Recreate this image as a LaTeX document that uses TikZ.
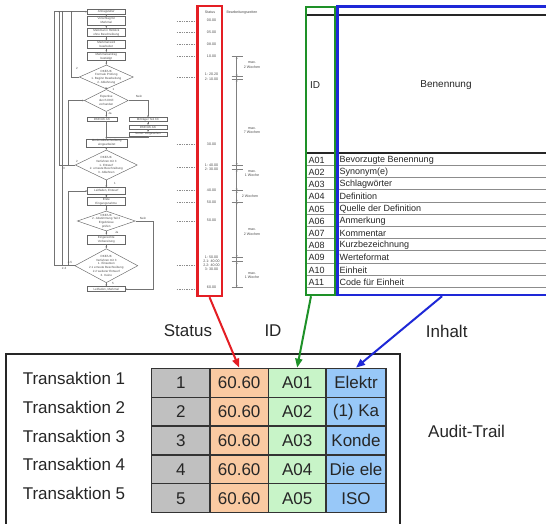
\documentclass[tikz,border=0pt]{standalone}
\usepackage{fontspec}
\setmainfont{Liberation Sans}
\usetikzlibrary{arrows.meta,shapes.geometric}
\newcommand\fcfont{\fontsize{3}{3.8}\selectfont}
\newcommand\smfont{\fontsize{3.6}{4.2}\selectfont}
\definecolor{cgray}{RGB}{192,192,192}
\definecolor{corange}{RGB}{250,202,162}
\definecolor{cgreen}{RGB}{200,244,200}
\definecolor{cblue}{RGB}{152,200,248}
\definecolor{myred}{RGB}{228,30,36}
\definecolor{mygreen}{RGB}{30,145,40}
\definecolor{myblue}{RGB}{30,40,215}
\begin{document}
\begin{tikzpicture}[x=1pt,y=-1pt,
 fbox/.style={draw=black!60,line width=0.45pt,fill=white,font=\fcfont,text=black!70,align=center,inner sep=0pt,minimum width=37.3pt},
 fdia/.style={diamond,draw=black!60,line width=0.45pt,fill=white,inner sep=0pt},
 ftext/.style={font=\fcfont,text=black!70,align=center,inner sep=0pt},
 flab/.style={font=\fcfont,text=black!70,inner sep=0pt},
 fline/.style={draw=black!55,line width=0.45pt},
 farrow/.style={fline,-{Stealth[length=2pt,width=1.6pt]}},
 dotline/.style={draw=black!45,line width=0.5pt,dash pattern=on 1.4pt off 1pt},
 stxt/.style={font=\smfont,text=black!70,inner sep=0pt},
 tline/.style={draw=black!50,line width=0.5pt},
 tarrow/.style={tline,{Stealth[length=2.2pt,width=1.8pt]}-{Stealth[length=2.2pt,width=1.8pt]}},
 frame/.style={line width=2.4pt,inner sep=0pt},
 hdr/.style={font=\fontsize{10}{12}\selectfont,text=black!85,inner sep=0pt},
 rowtxt/.style={font=\fontsize{9}{10}\selectfont,text=black!85,inner sep=0pt,anchor=west},
 cell/.style={draw=black!80,line width=1.3pt,minimum height=28.9pt,inner sep=0pt,font=\fontsize{17}{17}\selectfont,text=black!85},
 big/.style={font=\fontsize{17}{17}\selectfont,text=black!85,inner sep=0pt},
 bigarrow/.style={line width=2pt,-{Triangle[length=9pt,width=7pt]}},
]
\useasboundingbox (0,0) rectangle (546,523);
\clip (0,0) rectangle (546,523);
\fill[white] (0,0) rectangle (546,523);

% ---------------- flowchart ----------------
\node[fbox,minimum height=4.7pt] (f1) at (106.3,11.7) {Antragsteller};
\node[fbox,minimum height=8.3pt] (f2) at (106.3,20.8) {Vorschlag f\"ur\\Merkmal};
\node[fbox,minimum height=8.4pt] (f3) at (106.3,32.5) {Merkmal in Hinblick\\ohne Beschreibung};
\node[fbox,minimum height=7.6pt] (f4) at (106.3,44.5) {Merkmal wird\\bearbeitet};
\node[fbox,minimum height=8.4pt] (f5) at (106.3,56.5) {Merkmalsantrag\\best\"atigt};
\node[fdia,minimum width=54pt,minimum height=24pt] (d1) at (106.3,77) {};
\node[ftext] (t1) at (d1) {DKE/UK\\Formale Pr\"ufung\\1. Beginn Bearbeitung\\2. Ablehnung};
\node[fdia,minimum width=44pt,minimum height=22pt] (d2) at (106.3,100.5) {};
\node[ftext] (t2) at (d2) {Expertise\\durch DKE\\vorhanden};
\node[fbox,minimum width=30pt,minimum height=3.8pt] (f6) at (102,119.2) {DKE/UK AK};
\node[fbox,minimum width=38pt,minimum height=3.8pt] (r1) at (148,119.5) {Mittr\"ager Teil XX};
\node[fbox,minimum width=38pt,minimum height=3.8pt] (r2) at (148,127) {DKE/UK AK};
\node[fbox,minimum width=38pt,minimum height=3.8pt] (r3) at (148,134) {Sonst. Vorgesehen};
\node[fbox,minimum width=41.3pt,minimum height=7.5pt] (f7) at (106.7,143) {Merkmalbeschreibung\\eingearbeitet};
\node[fdia,minimum width=62pt,minimum height=30pt] (d3) at (106.3,165) {};
\node[ftext] (t3) at (d3) {DKE/UK\\Verfahren mit 3\\1. Entwurf\\2. erneute Beschreibung\\3. Ablehnen};
\node[fbox,minimum height=6.6pt] (f8) at (106.3,191) {Leitfaden, Entwurf};
\node[fbox,minimum height=8pt] (f9) at (106.3,201.7) {Erste\\Eingangsnahme};
\node[fdia,minimum width=58pt,minimum height=20pt] (d4) at (106.3,221) {};
\node[ftext] (t4) at (d4) {DKE/UK\\2. Abstimmung Teil 2\\Ergebnisse\\pr\"ufen};
\node[fbox,minimum height=9pt] (f10) at (106.3,239.5) {Eingereichte\\Vorbereitung};
\node[fdia,minimum width=63pt,minimum height=34pt] (d5) at (106.3,265.7) {};
\node[ftext] (t5) at (d5) {DKE/UK\\Verfahren mit 3\\1. Einsetzen\\2.1 erneute Beschreibung\\2.2 weiterer Entwurf\\3. Keine};
\node[fbox,minimum height=5pt] (f11) at (106.3,289.2) {Leitfaden, Merkmal};

\draw[farrow] (f1) -- (f2);
\draw[farrow] (f2) -- (f3);
\draw[farrow] (f3) -- (f4);
\draw[farrow] (f4) -- (f5);
\draw[farrow] (f5) -- (d1);
\draw[farrow] (d1) -- (d2);
\draw[farrow] (d2.south) -- (d2.south |- f6.north);
\draw[farrow] (d2.south |- f6.south) -- (f7.north -| d2.south);
\draw[farrow] (d2.east) -| (r1.north);
\draw[farrow] (r1) -- (r2);
\draw[farrow] (r2) -- (r3);
\coordinate (jn) at (106.3,137.5);
\draw[fline] (r3.south) |- (jn);
\draw[farrow] (f7.south -| d3.north) -- (d3.north);
\draw[farrow] (d3.south) -- (f8.north);
\draw[farrow] (f8) -- (f9);
\draw[farrow] (f9) -- (d4);
\draw[farrow] (d4.south) -- (f10.north);
\draw[farrow] (f10) -- (d5);
\draw[farrow] (d5.south) -- (f11.north);
\coordinate (nr) at (153.3,221);
\draw[farrow] (d4.east) -- (nr) |- (f11.east);

% left loops
\coordinate (ltop) at (54,11.7);
\coordinate (lA) at (54,265.7);
\coordinate (lBt) at (59,11.7);
\coordinate (lB) at (59,165);
\coordinate (lCt) at (62.3,11.7);
\coordinate (lC) at (62.3,265.7);
\coordinate (lDt) at (71.7,11.7);
\coordinate (k1) at (68,165);
\coordinate (k3) at (68,265.7);
\draw[farrow] (ltop) -- (f1.west);
\draw[fline] (ltop) -- (lA);
\draw[fline] (lBt) -- (lB);
\draw[fline] (lCt) -- (lC);
\draw[fline] (d1.west) -| (lDt);
\draw[farrow] (d3.west) -- (k1) |- (d2.west);
\draw[fline] (k1) -- (lB);
\draw[fline] (d5.west) -- (lA);
\draw[farrow] (k3) |- (f8.west);
\foreach \p in {lBt,lCt,lDt} \fill[black!60] (\p) circle (0.7pt);

\node[flab] (l1) at (77,68) {2};
\node[flab] (l2) at (113.5,89.3) {1};
\node[flab] (l3) at (139,96.7) {Nein};
\node[flab] (l4) at (110,113) {Ja};
\node[flab] (l5) at (77,161.7) {2};
\node[flab] (l6) at (64,168.3) {3};
\node[flab] (l7) at (115,183.3) {1};
\node[flab] (l8) at (143,218.7) {Nein};
\node[flab] (l9) at (116.7,232.3) {Ja};
\node[flab] (l10) at (70,262.3) {4-5};
\node[flab] (l11) at (64,268.7) {2-3};
\node[flab] (l12) at (113,283.3) {5};

% dotted lines to status
\foreach \y in {21.7,32.7,44.3,56,77.3,144,167,190.7,202.3,221,265.7,289}
  \draw[dotline] (176.7,\y) -- (197.3,\y);

% status values
\node[stxt] (sh) at (210,12.7) {Status};
\node[stxt] (bz) at (242,12.7) {Bearbeitungszeiten};
\foreach \y/\t in {20.7/00.00,32.7/05.00,44/08.00,56/10.00,74.7/{1: 20.20},79.3/{2: 10.00},144/30.00,165.3/{1: 40.00},169.3/{2: 30.00},190.7/40.00,202/50.00,220/50.00,257.3/{1: 50.00},261.4/{2.1: 40.00},265.5/{2.2: 40.00},269.6/{3: 30.00},287.3/60.00}
  \node[stxt] at (211.5,\y) {\t};

% timeline
\draw[tline] (236.7,56.7) -- (236.7,287.3);
\foreach \y in {56.7,76.7,79.3,165.3,169.3,190.7,202,257.3,261.7,287.3}
  \draw[tline] (231.7,\y) -- (242.7,\y);
\draw[tarrow] (236.7,56.7) -- (236.7,76.7);
\draw[tarrow] (236.7,79.3) -- (236.7,165.3);
\draw[tarrow] (236.7,169.3) -- (236.7,190.7);
\draw[tarrow] (236.7,190.7) -- (236.7,202);
\draw[tarrow] (236.7,202) -- (236.7,257.3);
\draw[tarrow] (236.7,261.7) -- (236.7,287.3);
\node[stxt,align=center] (w1) at (252,65) {max.\\2 Wochen};
\node[stxt,align=center] (w2) at (252,130.7) {max.\\7 Wochen};
\node[stxt,align=center] (w3) at (252,173.3) {max.\\1 Woche};
\node[stxt,align=center] (w4) at (250,196.3) {2 Wochen};
\node[stxt,align=center] (w5) at (252,232) {max.\\2 Wochen};
\node[stxt,align=center] (w6) at (252,275.3) {max.\\1 Woche};

% ---------------- attribute table ----------------
\draw[line width=1.8pt,black!85] (306,15) -- (546,15);
\draw[line width=1.8pt,black!85] (306,153.3) -- (546,153.3);
\foreach \i in {1,...,11}
  \draw[line width=1.1pt,black!45] (306,153.3+12.2*\i) -- (546,153.3+12.2*\i);
\node[hdr] (hid) at (315,85) {ID};
\node[hdr] (hben) at (446,85) {Benennung};
\foreach \i/\a/\t in {1/A01/Bevorzugte Benennung,2/A02/Synonym(e),3/A03/Schlagw\"orter,4/A04/Definition,5/A05/Quelle der Definition,6/A06/Anmerkung,7/A07/Kommentar,8/A08/Kurzbezeichnung,9/A09/Werteformat,10/A10/Einheit,11/A11/Code f\"ur Einheit}{
  \node[rowtxt] (id\i) at (308.5,153.3+12.2*\i-5.4) {\a};
  \node[rowtxt] (bn\i) at (339.5,153.3+12.2*\i-5.4) {\t};
}

% coloured frames
\node[frame,draw=myred,minimum width=24.4pt,minimum height=290pt] (statusbox) at (209.5,151) {};
\node[frame,draw=mygreen,minimum width=29pt,minimum height=288.3pt] (idbox) at (320.5,150.85) {};
\node[frame,draw=myblue,minimum width=212.7pt,minimum height=288.5pt] (inhaltbox) at (443.65,150.75) {};

% ---------------- audit trail ----------------
\node[draw=black!85,line width=1.8pt,minimum width=394.2pt,minimum height=190pt,inner sep=0pt,anchor=north west] (audit) at (5.2,353.3) {};
\foreach \r/\t in {1/Elektr,2/{(1) Ka},3/Konde,4/Die ele,5/ISO}{
  \pgfmathsetmacro\yy{368.3+28.88*(\r-0.5)}
  \node[cell,fill=cgray,minimum width=58.3pt] (g\r) at (180.85,\yy) {\r};
  \node[cell,fill=corange,minimum width=58.3pt] (s\r) at (239.15,\yy) {60.60};
  \node[cell,fill=cgreen,minimum width=57.7pt] (i\r) at (297.15,\yy) {A0\r};
  \node[cell,fill=cblue,minimum width=60pt] (b\r) at (356,\yy) {\t};
  \node[big,anchor=west] (tr\r) at (22.6,\yy-4.5) {Transaktion \r};
}
\node[big] (lstatus) at (188,331) {Status};
\node[big] (lid) at (273,331) {ID};
\node[big] (linhalt) at (446.7,331) {Inhalt};
\node[big] (laudit) at (466.6,431.7) {Audit-Trail};

\draw[bigarrow,myred] (statusbox.south) -- (s1.north);
\draw[bigarrow,mygreen] ([xshift=-9.5pt]idbox.south) -- (i1.north);
\draw[bigarrow,myblue] ([xshift=-1.6pt]inhaltbox.south) -- (b1.north);
\end{tikzpicture}
\end{document}
